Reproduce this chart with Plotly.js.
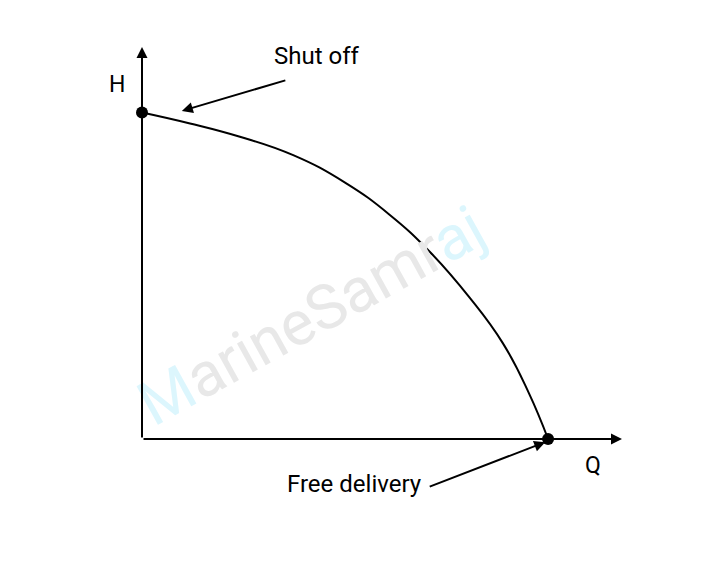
<!DOCTYPE html>
<html>
<head>
<meta charset="utf-8">
<script src="https://cdn.plot.ly/plotly-3.0.1.min.js"></script>
<style>html,body{margin:0;padding:0;background:#fff;}#chart{width:712px;height:564px;}</style>
</head>
<body>
<div id="chart"></div>
<script>
// Pump characteristic curve H vs Q (normalised units)
const flowQ = [0, 0.100, 0.204, 0.315, 0.423, 0.517, 0.600, 0.683, 0.752, 0.806, 0.846];
const headH = [0.833, 0.805, 0.771, 0.724, 0.654, 0.571, 0.477, 0.360, 0.244, 0.117, 0];
const endQ = [0, 0.846];
const endH = [0.833, 0];
const labelShutOff = "Shut off";
const labelFree = "Free delivery";
const axisH = "H";
const axisQ = "Q";

const FONT = "Roboto, 'Noto Sans', sans-serif";

const traces = [
  {x: flowQ, y: headH, mode: "lines", line: {color: "#000", width: 2, shape: "spline", smoothing: 1.3}, hoverinfo: "skip", cliponaxis: false},
  {x: endQ, y: endH, mode: "markers", marker: {color: "#000", size: 12}, hoverinfo: "skip", cliponaxis: false}
];

const wm = '<span style="color:#dcf6fd">M</span><span style="color:#e8e8e8">arineSamr</span><span style="color:#dcf6fd">aj</span>';

const layout = {
  width: 712, height: 564,
  margin: {l: 0, r: 0, t: 0, b: 0},
  paper_bgcolor: "#fff", plot_bgcolor: "#fff",
  showlegend: false,
  xaxis: {range: [-142/480, 570/480], visible: false, fixedrange: true},
  yaxis: {range: [-125/392, 439/392], visible: false, fixedrange: true},
  font: {family: FONT, color: "#000"},
  annotations: [
    {x: 0.352, y: 0.315, xref: "x", yref: "y", text: wm, showarrow: false, textangle: -29,
     font: {family: FONT, size: 62, color: "#e8e8e8"}},
    // y axis arrow
    {x: 0, y: 1, xref: "x", yref: "y", ax: 0, ay: 392, text: "",
     showarrow: true, arrowhead: 2, arrowsize: 1.1, arrowwidth: 2, arrowcolor: "#000", standoff: 0, startstandoff: 0},
    // x axis arrow
    {x: 1, y: 0, xref: "x", yref: "y", ax: -480, ay: 0, text: "",
     showarrow: true, arrowhead: 2, arrowsize: 1.1, arrowwidth: 2, arrowcolor: "#000", standoff: 0, startstandoff: 0},
    {x: -0.052, y: 0.905, xref: "x", yref: "y", text: axisH, showarrow: false, font: {family: FONT, size: 23}},
    {x: 0.94, y: -0.068, xref: "x", yref: "y", text: axisQ, showarrow: false, font: {family: FONT, size: 23}},
    {x: 0.365, y: 0.977, xref: "x", yref: "y", text: labelShutOff, showarrow: false, font: {family: FONT, size: 24}},
    {x: 0.442, y: -0.115, xref: "x", yref: "y", text: labelFree, showarrow: false, font: {family: FONT, size: 24}},
    // Shut off pointer
    {x: 0.083, y: 0.837, xref: "x", yref: "y", ax: 105, ay: -31, text: "",
     showarrow: true, arrowhead: 2, arrowsize: 1.1, arrowwidth: 2, arrowcolor: "#000", standoff: 0},
    // Free delivery pointer
    {x: 0.840, y: -0.008, xref: "x", yref: "y", ax: -117, ay: 45, text: "",
     showarrow: true, arrowhead: 2, arrowsize: 1.1, arrowwidth: 2, arrowcolor: "#000", standoff: 0}
  ]
};

Plotly.newPlot("chart", traces, layout, {staticPlot: true, displayModeBar: false});
</script>
</body>
</html>
